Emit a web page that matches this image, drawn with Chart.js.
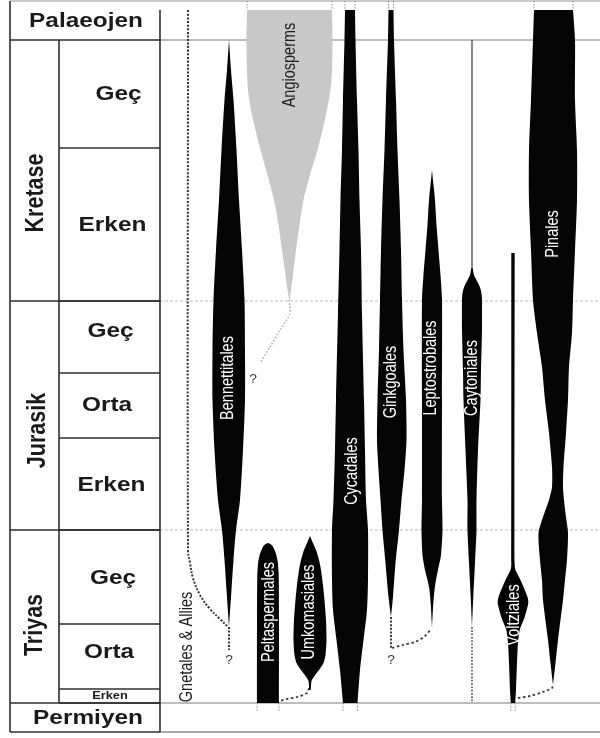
<!DOCTYPE html>
<html>
<head>
<meta charset="utf-8">
<title>Mesozoyik tohumlu bitki takımları</title>
<script src="https://cdn.jsdelivr.net/npm/chart.js@4.4.1/dist/chart.umd.min.js"></script>
<style>
  html, body { margin: 0; padding: 0; background: #fff; }
  #wrap { width: 600px; height: 738px; position: relative; }
</style>
</head>
<body>
<div id="wrap"><canvas id="chart"></canvas></div>
<script>
// ---- Stratigraphic column (depth axis runs downward) ----
const periods = ['Palaeojen', 'Kretase', 'Jurasik', 'Triyas', 'Permiyen'];
const periodTops = [1, 40, 301, 530, 703];
const periodBases = [40, 301, 530, 703, 732];

const epochs = ['Geç', 'Erken', 'Geç', 'Orta', 'Erken', 'Geç', 'Orta', 'Erken'];
const epochTops = [40, 148, 301, 373, 438, 530, 624, 689];
const epochBases = [148, 301, 373, 438, 530, 624, 689, 703];

// ---- Orders and their ranges ----
const taxa = ['Angiosperms', 'Bennettitales', 'Peltaspermales', 'Umkomasiales', 'Cycadales',
              'Ginkgoales', 'Leptostrobales', 'Caytoniales', 'Voltziales', 'Pinales'];

// Spindle width down the column: [depth, width left of axis, width right of axis]
const angiosperms = [[10, 42.5, 42.5], [40, 43, 43], [70, 42.5, 42.5], [90, 41.5, 41], [110, 38.5, 37.5],
  [130, 34, 33], [150, 29, 28], [175, 22, 20.5], [200, 15.5, 14], [225, 11, 10], [250, 7.5, 6.5],
  [275, 4, 3.5], [290, 2, 1.5], [300, 0.3, 0.3]];
const bennettitales = [[40, 0, 0], [70, 2, 2], [100, 4.5, 4.5], [150, 7.5, 7.5], [200, 10, 10],
  [250, 13, 13], [300, 15.5, 15.5], [350, 16.5, 16], [400, 16.5, 16], [450, 14.5, 14], [500, 11, 11],
  [530, 7, 7], [560, 4.5, 4.5], [590, 2.5, 2.5], [627, 0, 0]];
const peltaspermales = [[543, 0, 0], [544, 2.5, 2.5], [546, 4.5, 4.5], [550, 6.5, 6.5], [555, 8.3, 8.3],
  [562, 9.8, 9.8], [575, 10.7, 10.7], [620, 11, 11], [703, 11, 11]];
const umkomasiales = [[536, 0, 0], [542, 2.5, 2.5], [550, 6, 6], [560, 9, 9], [570, 11, 11], [585, 13, 13],
  [600, 14.5, 14.5], [620, 16, 16], [640, 16.5, 16.5], [655, 15.5, 15.5], [663, 13.5, 13.5],
  [670, 9, 9], [676, 4.5, 4.5], [681, 1.5, 1.5], [690, 0.8, 0.8]];
const cycadales = [[10, 5, 5], [40, 5.5, 5.5], [100, 7, 7], [150, 8, 8.5], [200, 9.5, 9.5], [250, 10.5, 11],
  [313, 12, 12], [400, 14, 14], [450, 15, 15], [500, 16.5, 16], [530, 18, 18], [580, 18, 18],
  [610, 17, 17], [640, 13.5, 13.5], [670, 10, 10], [703, 7, 7.5]];
const ginkgoales = [[10, 2.5, 2.5], [40, 3, 3], [100, 5, 5], [150, 6.5, 6.5], [200, 8.5, 8.5], [250, 10, 10],
  [300, 11, 11], [350, 12, 12.5], [400, 13.5, 15], [440, 14, 15.5], [470, 12.5, 13.5], [500, 10.5, 10.5],
  [530, 8.5, 8], [563, 5.5, 4.5], [597, 2.5, 2], [617, 0, 0]];
const leptostrobales = [[170, 0, 0], [185, 1.5, 1.5], [200, 3, 3], [225, 4.5, 4.5], [250, 6.5, 6.5],
  [275, 8.5, 8.5], [300, 10, 10], [400, 10, 10], [500, 10, 10], [530, 10.5, 10.5], [555, 9.5, 9],
  [570, 7, 6], [580, 4.5, 4], [590, 2.5, 2.5], [605, 1.2, 1.2], [628, 0, 0]];
const caytoniales = [[268, 0.7, 0.7], [275, 2, 2], [280, 4.5, 4.5], [285, 7, 7], [290, 8.8, 8.8],
  [295, 9.7, 9.7], [300, 10, 10], [330, 10, 10], [370, 9, 9], [400, 8.5, 8.5], [450, 6.5, 6],
  [500, 4.5, 4.5], [530, 4.5, 4.5], [563, 3, 3], [597, 1.3, 1.3], [627, 0, 0]];
const voltziales = [[253, 1.7, 1.7], [565, 1.7, 1.7], [570, 2.5, 2.5], [580, 7.5, 7.5], [597, 14.5, 14.5],
  [603, 15.3, 15.3], [617, 11.7, 11.7], [630, 6.7, 6.7], [643, 5, 5], [663, 4, 4], [690, 3, 3],
  [703, 2.2, 2.2]];
const pinales = [[10, 19, 20], [40, 20, 22], [100, 22, 22], [150, 24, 24], [200, 24, 24], [250, 22, 22],
  [300, 20, 20], [333, 16, 19], [367, 11, 16], [400, 8, 15], [433, 4, 13], [467, 1, 10.5],
  [487, 1, 10], [500, 4, 11], [517, 10, 13], [533, 14.5, 15], [560, 13, 14], [580, 11, 12],
  [600, 10, 10], [640, 5, 5], [663, 2.5, 2.5], [685, 0, 0]];

const ranges = [angiosperms, bennettitales, peltaspermales, umkomasiales, cycadales,
                ginkgoales, leptostrobales, caytoniales, voltziales, pinales];

// Ghost lineages and inferred links, as [column position, depth]
const gnetalesGhost = [[188, 10], [188, 550], [190, 563], [193, 578], [200, 595], [210, 609], [220, 619], [228, 627]];
const bennettitalesRoot = [[229, 627], [229, 650]];
const angiospermRoot = [[289, 300], [290, 313], [280, 330], [270, 347], [260, 363]];
const ginkgoRoot = [[391, 617], [391, 648]];
const leptostrobusLink = [[392, 648], [403, 645], [415, 642], [425, 636], [431, 629]];
const caytoniaRoot = [[472, 627], [472, 703]];
const caytoniaStem = [[472, 40], [472, 268]];
const umkomasiaLink = [[309, 688], [307, 693], [297, 697], [287, 699], [280, 701]];
const voltziaLink = [[518, 698], [530, 696], [543, 692], [552, 688], [553, 685]];
const uncertainOrigins = [[253, 380], [229, 661], [391, 661]];

// ---- Layout ----
const column = [289.5, 229, 268, 310, 350, 391, 432, 472, 513, 553];
const labelDepth = [65, 378, 612, 612, 471, 382, 368, 378, 615, 234];
const labelOffset = [0.5, -1, 1, -1, 2, 0, -1, 0, 1, 0];
const darkLabel = [true, false, false, false, false, false, false, false, false, false];
const spindleColour = ['#c8c8c8', '#050505', '#050505', '#050505', '#050505',
                       '#050505', '#050505', '#050505', '#050505', '#050505'];
const gnetalesLabel = { text: 'Gnetales & Allies', x: 187, depth: 647 };

const tableLeft = 10, tableMid = 59, tableRight = 160, plotRight = 600;
const periodLabelX = [86, 36, 38, 35, 88];
const periodLabelDepth = [21.5, 193, 430.5, 625, 718];
const epochLabelX = [118.5, 112.5, 110.5, 107, 111.5, 113, 109, 110];
const epochLabelDepth = [94.5, 225.5, 331, 405.5, 485.5, 578.5, 652.5, 696.5];
const STRETCH = 1.22;
const TABLE_FONT = 'bold 20px "Liberation Sans", Arial, sans-serif';
const PERIOD_FONT = 'bold 21.5px "Liberation Sans", Arial, sans-serif';
const SMALL_FONT = 'bold 10.5px "Liberation Sans", Arial, sans-serif';
const TAXON_FONT = '14.5px "Liberation Sans", Arial, sans-serif';

// ---- Datasets ----
const pts = arr => arr.map(([x, y]) => ({ x, y }));
const datasets = [];

taxa.forEach((name, i) => {
  const c = column[i], r = ranges[i];
  // outline: down the left edge, back up the right edge; end rows doubled to keep corners sharp
  const rows = [r[0]].concat(r, [r[r.length - 1]]);
  const leftEdge = rows.map(([d, l]) => ({ x: c - l, y: d }));
  const rightEdge = rows.slice().reverse().map(([d, , w]) => ({ x: c + w, y: d }));
  datasets.push({
    label: name, data: leftEdge.concat(rightEdge), showLine: true, fill: 'shape',
    backgroundColor: spindleColour[i], borderWidth: 0, pointRadius: 0, tension: 0.25, order: 1
  });
  // small dotted ticks where a range runs on beyond the column
  const first = r[0], last = r[r.length - 1];
  const ticks = [];
  if (first[0] === 10) ticks.push([c - first[1], periodTops[0], first[0]], [c + first[2], periodTops[0], first[0]]);
  if (last[0] === periodTops[4]) ticks.push([c - last[1], last[0], last[0] + 9], [c + last[2], last[0], last[0] + 9]);
  ticks.forEach(([x, a, b]) => datasets.push({
    label: name + ' tick', data: [{ x, y: a }, { x, y: b }], showLine: true, fill: false,
    borderColor: '#8a8a8a', borderWidth: 1, borderDash: [1.5, 1.5], pointRadius: 0, order: 3
  }));
});

function dotted(label, arr, colour, width, dash, tension) {
  datasets.push({
    label, data: pts(arr), showLine: true, fill: false, borderColor: colour, borderWidth: width,
    borderDash: dash, pointRadius: 0, tension: tension, order: 2
  });
}
dotted('Gnetales', gnetalesGhost, '#333', 2, [2, 1.6], 0.4);
dotted('Bennettitales root', bennettitalesRoot, '#333', 2, [2, 1.6], 0);
dotted('Angiosperm root', angiospermRoot, '#b4b4b4', 1.6, [1.6, 1.8], 0.3);
dotted('Ginkgoales root', ginkgoRoot, '#3a3a3a', 2, [2, 1.6], 0);
dotted('Leptostrobales link', leptostrobusLink, '#3a3a3a', 1.8, [2.5, 2.5], 0.3);
dotted('Caytoniales root', caytoniaRoot, '#5a5a5a', 1.7, [1.7, 1.6], 0);
dotted('Umkomasiales link', umkomasiaLink, '#3a3a3a', 1.8, [2.5, 2.5], 0.3);
dotted('Voltziales link', voltziaLink, '#3a3a3a', 1.8, [2.5, 2.5], 0.3);
dotted('Caytoniales stem', caytoniaStem, '#4a4a4a', 1.3, [], 0);

// ---- Drawing helpers ----
function text(ctx, str, x, y, font, colour, rotated, sx) {
  ctx.save();
  ctx.translate(x, y);
  ctx.scale(sx, 1);
  if (rotated) ctx.rotate(-Math.PI / 2);
  ctx.font = font;
  ctx.fillStyle = colour;
  ctx.textAlign = 'center';
  ctx.textBaseline = 'middle';
  ctx.fillText(str, 0, 0);
  ctx.restore();
}
function hline(ctx, X, Y, d, x0, x1, colour, w, dash) {
  ctx.save();
  ctx.strokeStyle = colour; ctx.lineWidth = w; ctx.setLineDash(dash || []);
  ctx.beginPath(); ctx.moveTo(X(x0), Y(d)); ctx.lineTo(X(x1), Y(d)); ctx.stroke();
  ctx.restore();
}
function vline(ctx, X, Y, x, d0, d1, colour, w) {
  ctx.save();
  ctx.strokeStyle = colour; ctx.lineWidth = w;
  ctx.beginPath(); ctx.moveTo(X(x), Y(d0)); ctx.lineTo(X(x), Y(d1)); ctx.stroke();
  ctx.restore();
}

// Time-scale table and boundary lines, under the spindles
const frame = {
  id: 'frame',
  beforeDatasetsDraw(chart) {
    const { ctx, scales: { x, y } } = chart;
    const X = v => x.getPixelForValue(v), Y = v => y.getPixelForValue(v);
    const ink = '#2e2e2e';

    // boundary lines across the plot
    hline(ctx, X, Y, periodTops[0], tableLeft, plotRight, '#b8b8b8', 1.5);
    periodBases.forEach((d, i) => {
      if (i === 0 || i === 3) hline(ctx, X, Y, d, tableRight, plotRight, '#a6a6a6', 1.3);
      else if (i === 4) hline(ctx, X, Y, d, tableRight, plotRight, '#8c8c8c', 1.5);
      else hline(ctx, X, Y, d, tableRight, plotRight, '#bcbcbc', 1, [3, 2]);
    });

    // table frame
    vline(ctx, X, Y, tableLeft, periodTops[0], periodBases[4], ink, 1.6);
    vline(ctx, X, Y, tableRight, 10, periodBases[4], ink, 1.6);
    vline(ctx, X, Y, tableMid, periodTops[1], periodBases[3], ink, 1.6);
    periodBases.forEach(d => hline(ctx, X, Y, d, tableLeft, tableRight, ink, 1.6));
    epochBases.forEach(d => hline(ctx, X, Y, d, tableMid, tableRight, ink, 1.6));

    // table text
    periods.forEach((p, i) => {
      const rotated = i > 0 && i < 4;
      text(ctx, p, X(periodLabelX[i]), Y(periodLabelDepth[i]), rotated ? PERIOD_FONT : TABLE_FONT,
           '#1a1a1a', rotated, rotated ? 1.18 : STRETCH);
    });
    epochs.forEach((e, i) => {
      const small = (epochBases[i] - epochTops[i]) < 20;
      text(ctx, e, X(epochLabelX[i]), Y(epochLabelDepth[i]), small ? SMALL_FONT : TABLE_FONT,
           '#1a1a1a', false, STRETCH);
    });
  }
};

// Order names and question marks, over the spindles
const captions = {
  id: 'captions',
  afterDatasetsDraw(chart) {
    const { ctx, scales: { x, y } } = chart;
    const X = v => x.getPixelForValue(v), Y = v => y.getPixelForValue(v);
    taxa.forEach((name, i) => {
      text(ctx, name, X(column[i] + labelOffset[i]), Y(labelDepth[i]), TAXON_FONT,
           darkLabel[i] ? '#1e1e1e' : '#ffffff', true, STRETCH);
    });
    text(ctx, gnetalesLabel.text, X(gnetalesLabel.x), Y(gnetalesLabel.depth), TAXON_FONT, '#1e1e1e', true, STRETCH);
    uncertainOrigins.forEach(([qx, qd]) => text(ctx, '?', X(qx), Y(qd), '12px "Liberation Sans", Arial, sans-serif', '#3c3c3c', false, 1.15));
  }
};

new Chart(document.getElementById('chart'), {
  type: 'scatter',
  data: { datasets },
  options: {
    responsive: true,
    maintainAspectRatio: false,
    animation: false,
    devicePixelRatio: 1,
    events: [],
    layout: { padding: 0 },
    plugins: { legend: { display: false }, tooltip: { enabled: false } },
    elements: { point: { radius: 0 } },
    scales: {
      x: { type: 'linear', min: 0, max: 600, display: false },
      y: { type: 'linear', min: 0, max: 738, reverse: true, display: false }
    }
  },
  plugins: [frame, captions]
});
</script>
</body>
</html>
